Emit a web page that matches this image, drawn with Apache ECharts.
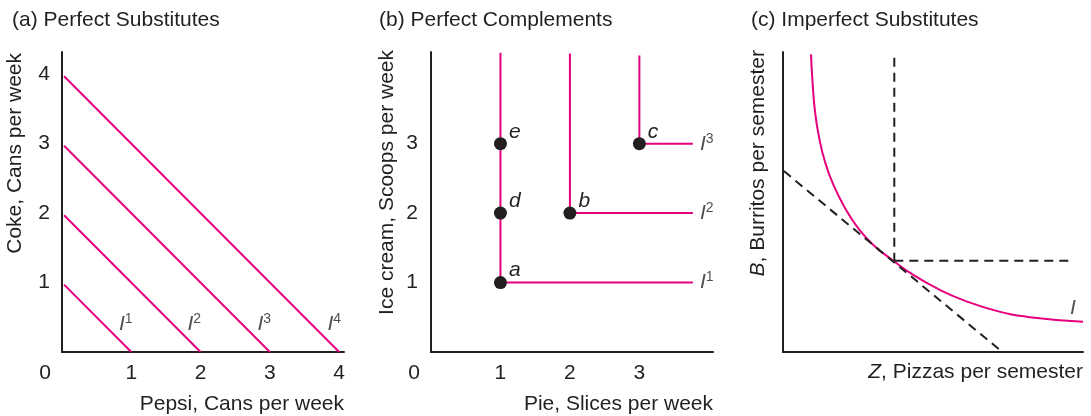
<!DOCTYPE html>
<html><head><meta charset="utf-8">
<script src="https://cdn.jsdelivr.net/npm/echarts@6/dist/echarts.min.js"></script>
<style>html,body{margin:0;padding:0;background:#fff}#c{width:1091px;height:416px}</style>
</head><body><div id="c"></div>
<script>
// ---------- data ----------
const panelTitles = ['(a) Perfect Substitutes', '(b) Perfect Complements', '(c) Imperfect Substitutes'];

// (a) Perfect substitutes: Pepsi (x) vs Coke (y)
const subsLevels = [1, 2, 3, 4];
const subsLines = [
  [[0.03, 0.97], [1, 0]],
  [[0.03, 1.97], [2, 0]],
  [[0.03, 2.97], [3, 0]],
  [[0.03, 3.97], [4, 0]]
];
const subsLabelPos = [[0.92, 0.4], [1.91, 0.4], [2.92, 0.4], [3.93, 0.4]];

// (b) Perfect complements: Pie (x) vs Ice cream (y)
const compLevels = [1, 2, 3];
const compLines = [
  [[1, 4.31], [1, 1], [3.77, 1]],
  [[2, 4.3], [2, 2], [3.77, 2]],
  [[3, 4.27], [3, 3], [3.77, 3]]
];
const compLabelPos = [[3.97, 1], [3.97, 2], [3.97, 3]];
const bundleNames = ['a', 'd', 'e', 'b', 'c'];
const bundlePie = [1, 1, 1, 2, 3];
const bundleIce = [1, 2, 3, 2, 3];

// (c) Imperfect substitutes: Pizzas Z (x) vs Burritos B (y), arbitrary 0-100 scale
const curveZ = [9.33, 9.77, 10.67, 12.1, 14.0, 16.8, 20.7, 25.1, 30.1, 36.8, 43.4, 52.3, 60.1, 71.2, 82.3, 100];
const curveB = [99.2, 91.2, 80.1, 71.2, 63.4, 55.7, 47.9, 41.2, 35.7, 30.4, 25.7, 20.7, 17.3, 13.7, 11.6, 10.1];
const tangentLine = [[0.3, 60.3], [72.5, 0.5]];
const guideVertical = [[37.1, 98.1], [37.1, 30.4]];
const guideHorizontal = [[37.1, 30.4], [96.2, 30.4]];
const curveLabelPos = [96.6, 14.6];

// ---------- styling ----------
const FONT = 'Liberation Sans';
const INK = '#231f20';
const MAGENTA = '#e5007e';
const FS = 21;

const supRich = {
  i: {fontFamily: FONT, fontStyle: 'italic', fontSize: FS, color: INK, lineHeight: 24},
  s: {fontFamily: FONT, fontSize: 14, color: INK, verticalAlign: 'top', lineHeight: 16}
};
const nameRich = {
  n: {fontFamily: FONT, fontSize: FS, color: INK},
  it: {fontFamily: FONT, fontStyle: 'italic', fontSize: FS, color: INK}
};

const grids = [
  {left: 62, top: 52, width: 282, height: 300},
  {left: 431, top: 52, width: 282, height: 300},
  {left: 783, top: 52, width: 300, height: 300}
];

function baseAxis() {
  return {
    type: 'value',
    axisLine: {show: true, onZero: false, lineStyle: {color: INK, width: 2}},
    axisTick: {show: false},
    splitLine: {show: false},
    nameMoveOverlap: false
  };
}
function intLabel(v) { return (Math.abs(v - Math.round(v)) < 1e-9 && v !== 0) ? String(v) : ''; }
function xName(text, drop) {
  return {nameLocation: 'end', nameGap: 0, name: text,
    nameTextStyle: {fontFamily: FONT, fontSize: FS, color: INK, align: 'right', verticalAlign: 'middle',
      padding: [drop * 2, 0, 0, 0], rich: nameRich}};
}
function yName(text, shift, gap) {
  return {nameLocation: 'end', nameGap: gap, nameRotate: 90, name: text,
    nameTextStyle: {fontFamily: FONT, fontSize: FS, color: INK, align: 'right', verticalAlign: 'middle',
      padding: [0, 0, shift * 2, 0], rich: nameRich}};
}
const zeroRich = {z: {fontFamily: FONT, fontSize: FS, color: INK, padding: [0, 34, 0, 0]}};

const xAxes = [
  Object.assign(baseAxis(), {gridIndex: 0, min: 0, max: 4.07, interval: 1,
    axisLabel: {fontFamily: FONT, fontSize: FS, color: INK, margin: 11,
      formatter: v => v === 0 ? '{z|0}' : intLabel(v), rich: zeroRich}},
    xName('{n|Pepsi, Cans per week}', 52)),
  Object.assign(baseAxis(), {gridIndex: 1, min: 0, max: 4.06, interval: 1,
    axisLabel: {fontFamily: FONT, fontSize: FS, color: INK, margin: 11,
      formatter: v => v === 0 ? '{z|0}' : (v <= 3 ? intLabel(v) : ''), rich: zeroRich}},
    xName('{n|Pie, Slices per week}', 52)),
  Object.assign(baseAxis(), {gridIndex: 2, min: 0, max: 100, axisLabel: {show: false}},
    xName('{it|Z}{n|, Pizzas per semester}', 20))
];

const yAxes = [
  Object.assign(baseAxis(), {gridIndex: 0, min: 0, max: 4.32, interval: 1,
    axisLabel: {fontFamily: FONT, fontSize: FS, color: INK, margin: 12, formatter: intLabel}},
    yName('{n|Coke, Cans per week}', 47, -1)),
  Object.assign(baseAxis(), {gridIndex: 1, min: 0, max: 4.32, interval: 1,
    axisLabel: {fontFamily: FONT, fontSize: FS, color: INK, margin: 13, formatter: v => (v <= 3 ? intLabel(v) : '')}},
    yName('{n|Ice cream, Scoops per week}', 44, 2)),
  Object.assign(baseAxis(), {gridIndex: 2, min: 0, max: 100, axisLabel: {show: false}},
    yName('{it|B}{n|, Burritos per semester}', 25, 2))
];

const series = [];
// (a)
subsLines.forEach(d => series.push({type: 'line', xAxisIndex: 0, yAxisIndex: 0, data: d, showSymbol: false, silent: true,
  lineStyle: {color: MAGENTA, width: 2}}));
series.push({type: 'scatter', xAxisIndex: 0, yAxisIndex: 0, symbolSize: 0, silent: true,
  data: subsLabelPos.map((p, i) => ({value: p, label: {formatter: '{i|I}{s|' + subsLevels[i] + '}'}})),
  label: {show: true, position: 'inside', rich: supRich}});
// (b)
compLines.forEach(d => series.push({type: 'line', xAxisIndex: 1, yAxisIndex: 1, data: d, showSymbol: false, silent: true,
  lineStyle: {color: MAGENTA, width: 2}}));
series.push({type: 'scatter', xAxisIndex: 1, yAxisIndex: 1, symbolSize: 0, silent: true,
  data: compLabelPos.map((p, i) => ({value: p, label: {formatter: '{i|I}{s|' + compLevels[i] + '}'}})),
  label: {show: true, position: 'inside', rich: supRich}});
series.push({type: 'scatter', xAxisIndex: 1, yAxisIndex: 1, symbolSize: 13, silent: true, z: 5,
  itemStyle: {color: INK, opacity: 1},
  data: bundleNames.map((n, i) => ({name: n, value: [bundlePie[i], bundleIce[i]]})),
  label: {show: true, position: 'right', distance: 2, offset: [0, -12], formatter: '{b}',
    fontFamily: FONT, fontStyle: 'italic', fontSize: FS, color: INK}});
// (c)
series.push({type: 'line', xAxisIndex: 2, yAxisIndex: 2, data: curveZ.map((z, i) => [z, curveB[i]]),
  showSymbol: false, silent: true, smooth: 0.5, lineStyle: {color: MAGENTA, width: 2}, z: 3});
[tangentLine, guideVertical, guideHorizontal].forEach(d => series.push({type: 'line', xAxisIndex: 2, yAxisIndex: 2,
  data: d, showSymbol: false, silent: true, lineStyle: {color: INK, width: 2, type: [9, 6]}, z: 4}));
series.push({type: 'scatter', xAxisIndex: 2, yAxisIndex: 2, symbolSize: 0, silent: true,
  data: [{value: curveLabelPos}],
  label: {show: true, position: 'inside', formatter: '{i|I}', rich: supRich}});

const titleLefts = [12, 379, 751];
const option = {
  animation: false,
  backgroundColor: '#ffffff',
  title: panelTitles.map((t, i) => ({text: t, left: titleLefts[i], top: 10, padding: 0,
    textStyle: {fontFamily: FONT, fontSize: FS, fontWeight: 'normal', color: INK}})),
  grid: grids,
  xAxis: xAxes,
  yAxis: yAxes,
  series: series
};
const chart = echarts.init(document.getElementById('c'), null, {renderer: 'canvas'});
chart.setOption(option);
</script>
</body></html>
